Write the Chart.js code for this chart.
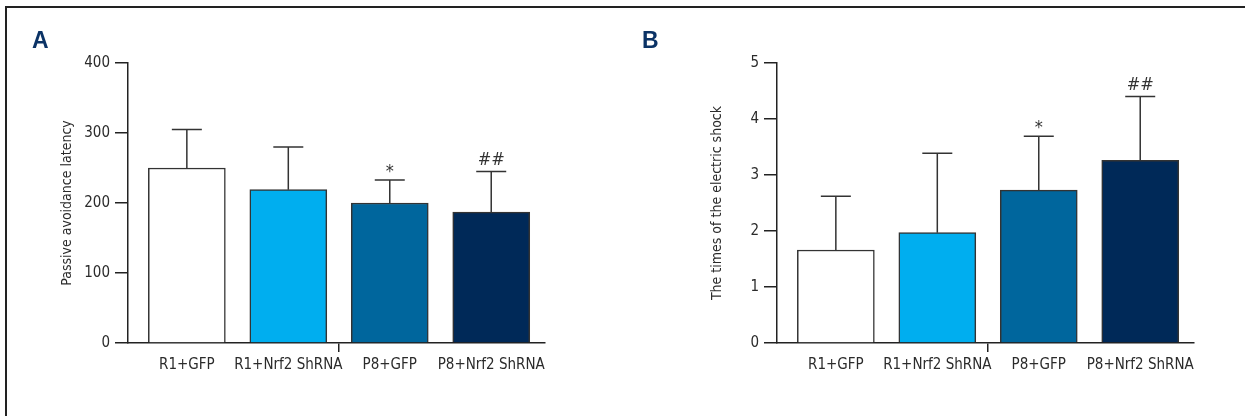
<!DOCTYPE html>
<html>
<head>
<meta charset="utf-8">
<script src="https://cdn.jsdelivr.net/npm/chart.js@4"></script>
<style>
  body { margin: 0; background: #fff; }
  #wrap { position: relative; width: 1245px; height: 416px; overflow: hidden; }
  #frame { position: absolute; left: 5px; top: 6px; width: 1300px; height: 500px;
           border-top: 2px solid #222; border-left: 2px solid #222; }
  .panel { position: absolute; top: 0; height: 416px; }
  .tag { position: absolute; top: 27px; font: bold 23px 'Liberation Sans', Arial, sans-serif; color: #0b3366; }
</style>
</head>
<body>
<div id="wrap">
  <div id="frame"></div>
  <div class="panel" style="left:0;width:620px"><canvas id="chartA"></canvas></div>
  <div class="panel" style="left:620px;width:625px"><canvas id="chartB"></canvas></div>
  <div class="tag" style="left:32px">A</div>
  <div class="tag" style="left:642px">B</div>
</div>
<script>
// groups shared by both panels
const groups = ['R1+GFP', 'R1+Nrf2 ShRNA', 'P8+GFP', 'P8+Nrf2 ShRNA'];
const barColors = ['#ffffff', '#00aeef', '#00669d', '#002958'];
const marks = ['', '', '*', '##'];

// panel A
const latencyMean = [250, 219, 200, 187];
const latencySd = [55, 61, 33, 58];
const latencyTicks = [0, 100, 200, 300, 400];

// panel B
const shockMean = [1.66, 1.97, 2.73, 3.26];
const shockSd = [0.96, 1.42, 0.96, 1.14];
const shockTicks = [0, 1, 2, 3, 4, 5];

const xTicks = [0, 1, 1.5, 2, 3];

Chart.defaults.font.family = "'Liberation Sans Narrow', 'DejaVu Sans Condensed', sans-serif";
Chart.defaults.color = '#2b2b2b';

// one-sided SD bars plus significance marks, drawn through the chart scales
const errorBars = {
    id: 'errorBars',
    afterDatasetsDraw(chart, args, opts) {
        const ctx = chart.ctx;
        const xs = chart.scales.x, ys = chart.scales.y;
        ctx.save();
        ctx.strokeStyle = '#333';
        ctx.lineWidth = 1.5;
        opts.mean.forEach((m, i) => {
            const x = xs.getPixelForValue(i);
            const y0 = ys.getPixelForValue(m);
            const y1 = ys.getPixelForValue(m + opts.sd[i]);
            ctx.beginPath();
            ctx.moveTo(x, y0);
            ctx.lineTo(x, y1);
            ctx.moveTo(x - 15, y1);
            ctx.lineTo(x + 15, y1);
            ctx.stroke();
            if (marks[i]) {
                ctx.font = "18px 'Liberation Sans Narrow', 'DejaVu Sans Condensed', sans-serif";
                ctx.fillStyle = '#333';
                ctx.textAlign = 'center';
                ctx.textBaseline = 'alphabetic';
                const d = ctx.measureText(marks[i]).actualBoundingBoxDescent || 0;
                ctx.fillText(marks[i], x, y1 - 7 - d);
            }
        });
        ctx.restore();
    }
};

function makePanel(id, mean, sd, yTicks, title, pad, yWidth) {
    new Chart(document.getElementById(id), {
        type: 'bar',
        data: {
            datasets: [{
                data: mean.map((v, i) => ({ x: i, y: v })),
                backgroundColor: barColors,
                borderColor: '#333',
                borderWidth: 1.5,
                barThickness: 77
            }]
        },
        options: {
            responsive: false,
            animation: false,
            layout: { padding: pad },
            plugins: {
                legend: { display: false },
                tooltip: { enabled: false },
                errorBars: { mean: mean, sd: sd }
            },
            scales: {
                x: {
                    type: 'linear',
                    offset: false,
                    min: -0.58,
                    max: 3.53,
                    afterBuildTicks: s => { s.ticks = xTicks.map(v => ({ value: v })); },
                    afterFit: s => { s.height = 73; },
                    ticks: {
                        autoSkip: false,
                        maxRotation: 0,
                        padding: 4,
                        font: { size: 15 },
                        callback: v => Number.isInteger(v) ? groups[v] : ''
                    },
                    grid: {
                        offset: false,
                        drawOnChartArea: false,
                        tickLength: 9,
                        lineWidth: 1.5,
                        color: c => (c.tick && c.tick.value === 1.5) ? '#222' : 'rgba(0,0,0,0)'
                    },
                    border: { color: '#222', width: 1.5 }
                },
                y: {
                    min: 0,
                    max: yTicks[yTicks.length - 1],
                    afterBuildTicks: s => { s.ticks = yTicks.map(v => ({ value: v })); },
                    afterFit: s => { s.width = yWidth; },
                    ticks: { padding: 5, font: { size: 15 } },
                    grid: { drawOnChartArea: false, tickLength: 13, lineWidth: 1.5, color: '#222' },
                    border: { color: '#222', width: 1.5 },
                    title: {
                        display: true,
                        text: title,
                        padding: { top: 9 },
                        font: { size: 14 },
                        color: '#2b2b2b'
                    }
                }
            }
        },
        plugins: [errorBars]
    });
}

const cA = document.getElementById('chartA');
cA.width = 620; cA.height = 416;
const cB = document.getElementById('chartB');
cB.width = 625; cB.height = 416;

makePanel('chartA', latencyMean, latencySd, latencyTicks, 'Passive avoidance latency',
    { left: 50, top: 63, right: 75, bottom: 0 }, 78);
makePanel('chartB', shockMean, shockSd, shockTicks, 'The times of the electric shock',
    { left: 80, top: 63, right: 51, bottom: 0 }, 77);
</script>
</body>
</html>
